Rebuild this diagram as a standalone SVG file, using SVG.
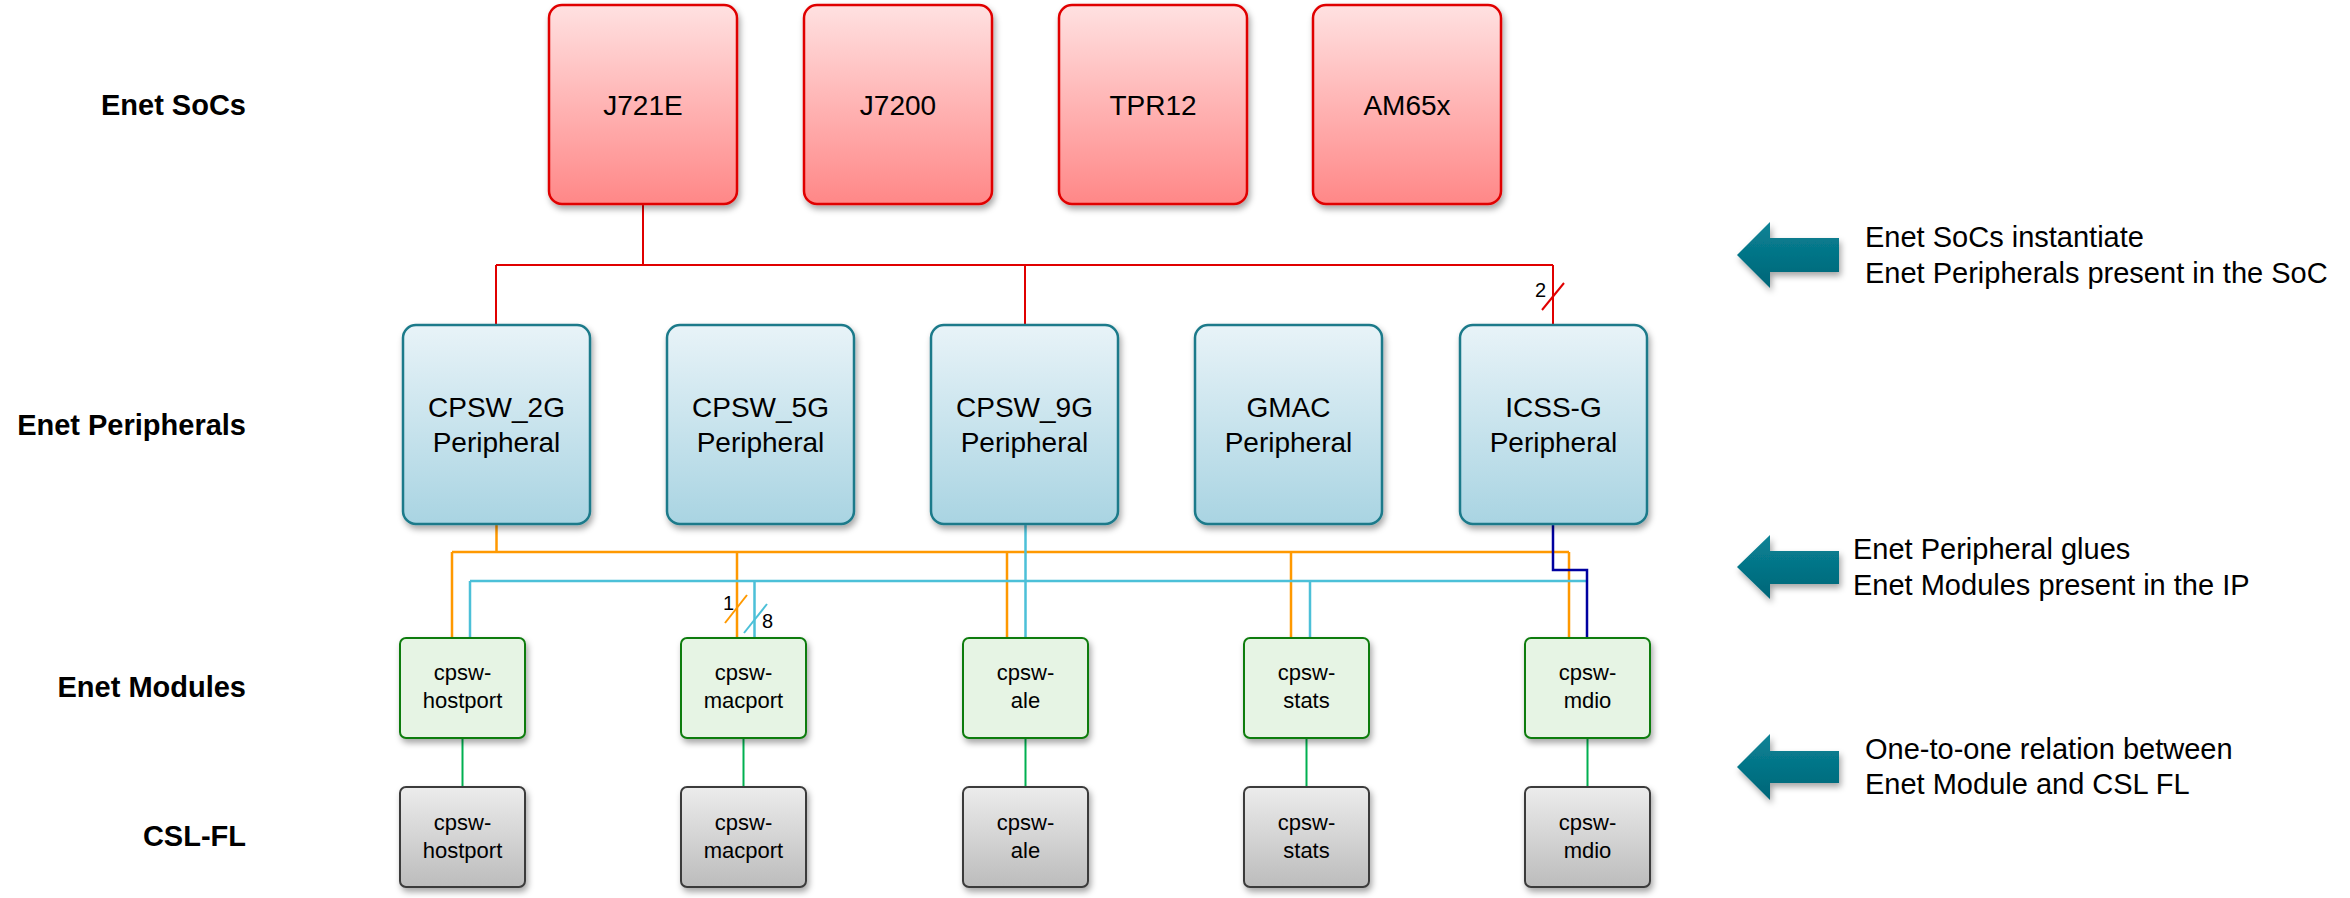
<svg xmlns="http://www.w3.org/2000/svg" width="2350" height="898" viewBox="0 0 2350 898">
<defs>
<linearGradient id="gSoc" x1="0" y1="0" x2="0" y2="1"><stop offset="0" stop-color="#ffe1e1"/><stop offset="1" stop-color="#ff8787"/></linearGradient>
<linearGradient id="gPer" x1="0" y1="0" x2="0" y2="1"><stop offset="0" stop-color="#e8f3f8"/><stop offset="1" stop-color="#a9d4e2"/></linearGradient>
<linearGradient id="gCsl" x1="0" y1="0" x2="0" y2="1"><stop offset="0" stop-color="#ececec"/><stop offset="1" stop-color="#bcbcbc"/></linearGradient>
<linearGradient id="gArr" x1="0" y1="0" x2="0" y2="1"><stop offset="0" stop-color="#0a8396"/><stop offset="1" stop-color="#006577"/></linearGradient>
<filter id="sh" x="-10%" y="-10%" width="130%" height="130%"><feDropShadow dx="2" dy="4" stdDeviation="3" flood-color="#000" flood-opacity="0.35"/></filter>
</defs>
<style>
.soc{fill:url(#gSoc);stroke:#e00000;stroke-width:2.5;filter:url(#sh)}
.per{fill:url(#gPer);stroke:#1b7a8a;stroke-width:2.5;filter:url(#sh)}
.mod{fill:#e6f4e4;stroke:#107c10;stroke-width:2;filter:url(#sh)}
.csl{fill:url(#gCsl);stroke:#3a3a3a;stroke-width:2;filter:url(#sh)}
.arr{fill:url(#gArr);filter:url(#sh)}
text{font-family:"Liberation Sans",Arial,sans-serif;fill:#000}
.big{font-size:28px;text-anchor:middle}
.small{font-size:22px;text-anchor:middle}
.lbl{font-size:29px;font-weight:bold;text-anchor:end}
.note{font-size:29px}
.num{font-size:20px}
.red{stroke:#e00000;stroke-width:2;fill:none}
.org{stroke:#ff9900;stroke-width:2.5;fill:none}
.cyn{stroke:#4cc0d8;stroke-width:2.5;fill:none}
.blu{stroke:#0000a0;stroke-width:2.5;fill:none}
.grn{stroke:#00b050;stroke-width:2;fill:none}
</style>
<rect width="2350" height="898" fill="#fff"/>

<g id="labels">
<text class="lbl" x="246" y="115">Enet SoCs</text>
<text class="lbl" x="246" y="435">Enet Peripherals</text>
<text class="lbl" x="246" y="697">Enet Modules</text>
<text class="lbl" x="246" y="846">CSL-FL</text>
</g>

<g id="connectors">
<path class="red" d="M643,204 V265 M496,265 H1553 M496,265 V325 M1025,265 V325 M1553,265 V325"/>
<path class="red" d="M1564,283 L1542,310"/>
<text class="num" x="1535" y="297">2</text>
<path class="org" d="M496.5,524 V551.5 M452,552 H1569 M452,552 V638 M737,552 V638 M1007,552 V638 M1291,552 V638 M1569,552 V638"/>
<path class="cyn" d="M470,581 H1587 M470,581 V638 M754.5,581 V638 M1025.5,524 V638 M1310,581 V638"/>
<path class="blu" d="M1553,524 V570 H1587 V638"/>
<path d="M747,595 L725,623" stroke="#ff9900" stroke-width="2"/>
<path d="M767,604 L744,633" stroke="#4cc0d8" stroke-width="2"/>
<text class="num" x="723" y="610">1</text>
<text class="num" x="762" y="628">8</text>
<path class="grn" d="M462.5,738 V787 M743.5,738 V787 M1025.5,738 V787 M1306.5,738 V787 M1587.5,738 V787"/>
</g>

<g id="soc-j721e"><rect class="soc" x="549" y="5" width="188" height="199" rx="13"/><text class="big" x="643" y="115">J721E</text></g>
<g id="soc-j7200"><rect class="soc" x="804" y="5" width="188" height="199" rx="13"/><text class="big" x="898" y="115">J7200</text></g>
<g id="soc-tpr12"><rect class="soc" x="1059" y="5" width="188" height="199" rx="13"/><text class="big" x="1153" y="115">TPR12</text></g>
<g id="soc-am65x"><rect class="soc" x="1313" y="5" width="188" height="199" rx="13"/><text class="big" x="1407" y="115">AM65x</text></g>

<g id="per-cpsw2g"><rect class="per" x="403" y="325" width="187" height="199" rx="13"/><text class="big" x="496.5" y="417">CPSW_2G</text><text class="big" x="496.5" y="452">Peripheral</text></g>
<g id="per-cpsw5g"><rect class="per" x="667" y="325" width="187" height="199" rx="13"/><text class="big" x="760.5" y="417">CPSW_5G</text><text class="big" x="760.5" y="452">Peripheral</text></g>
<g id="per-cpsw9g"><rect class="per" x="931" y="325" width="187" height="199" rx="13"/><text class="big" x="1024.5" y="417">CPSW_9G</text><text class="big" x="1024.5" y="452">Peripheral</text></g>
<g id="per-gmac"><rect class="per" x="1195" y="325" width="187" height="199" rx="13"/><text class="big" x="1288.5" y="417">GMAC</text><text class="big" x="1288.5" y="452">Peripheral</text></g>
<g id="per-icssg"><rect class="per" x="1460" y="325" width="187" height="199" rx="13"/><text class="big" x="1553.5" y="417">ICSS-G</text><text class="big" x="1553.5" y="452">Peripheral</text></g>

<g id="mod-hostport"><rect class="mod" x="400" y="638" width="125" height="100" rx="6"/><text class="small" x="462.5" y="680">cpsw-</text><text class="small" x="462.5" y="708">hostport</text></g>
<g id="mod-macport"><rect class="mod" x="681" y="638" width="125" height="100" rx="6"/><text class="small" x="743.5" y="680">cpsw-</text><text class="small" x="743.5" y="708">macport</text></g>
<g id="mod-ale"><rect class="mod" x="963" y="638" width="125" height="100" rx="6"/><text class="small" x="1025.5" y="680">cpsw-</text><text class="small" x="1025.5" y="708">ale</text></g>
<g id="mod-stats"><rect class="mod" x="1244" y="638" width="125" height="100" rx="6"/><text class="small" x="1306.5" y="680">cpsw-</text><text class="small" x="1306.5" y="708">stats</text></g>
<g id="mod-mdio"><rect class="mod" x="1525" y="638" width="125" height="100" rx="6"/><text class="small" x="1587.5" y="680">cpsw-</text><text class="small" x="1587.5" y="708">mdio</text></g>

<g id="csl-hostport"><rect class="csl" x="400" y="787" width="125" height="100" rx="6"/><text class="small" x="462.5" y="830">cpsw-</text><text class="small" x="462.5" y="858">hostport</text></g>
<g id="csl-macport"><rect class="csl" x="681" y="787" width="125" height="100" rx="6"/><text class="small" x="743.5" y="830">cpsw-</text><text class="small" x="743.5" y="858">macport</text></g>
<g id="csl-ale"><rect class="csl" x="963" y="787" width="125" height="100" rx="6"/><text class="small" x="1025.5" y="830">cpsw-</text><text class="small" x="1025.5" y="858">ale</text></g>
<g id="csl-stats"><rect class="csl" x="1244" y="787" width="125" height="100" rx="6"/><text class="small" x="1306.5" y="830">cpsw-</text><text class="small" x="1306.5" y="858">stats</text></g>
<g id="csl-mdio"><rect class="csl" x="1525" y="787" width="125" height="100" rx="6"/><text class="small" x="1587.5" y="830">cpsw-</text><text class="small" x="1587.5" y="858">mdio</text></g>

<g id="note-soc">
<path class="arr" d="M1737,255 L1770,222 V238 H1839 V272 H1770 V288 Z"/>
<text class="note" x="1865" y="247">Enet SoCs instantiate</text>
<text class="note" x="1865" y="283">Enet Peripherals present in the SoC</text>
</g>
<g id="note-per">
<path class="arr" d="M1737,567 L1770,535 V551 H1839 V584 H1770 V599 Z"/>
<text class="note" x="1853" y="559">Enet Peripheral glues</text>
<text class="note" x="1853" y="595">Enet Modules present in the IP</text>
</g>
<g id="note-mod">
<path class="arr" d="M1737,767 L1770,734 V751 H1839 V783 H1770 V800 Z"/>
<text class="note" x="1865" y="759">One-to-one relation between</text>
<text class="note" x="1865" y="794">Enet Module and CSL FL</text>
</g>
</svg>
